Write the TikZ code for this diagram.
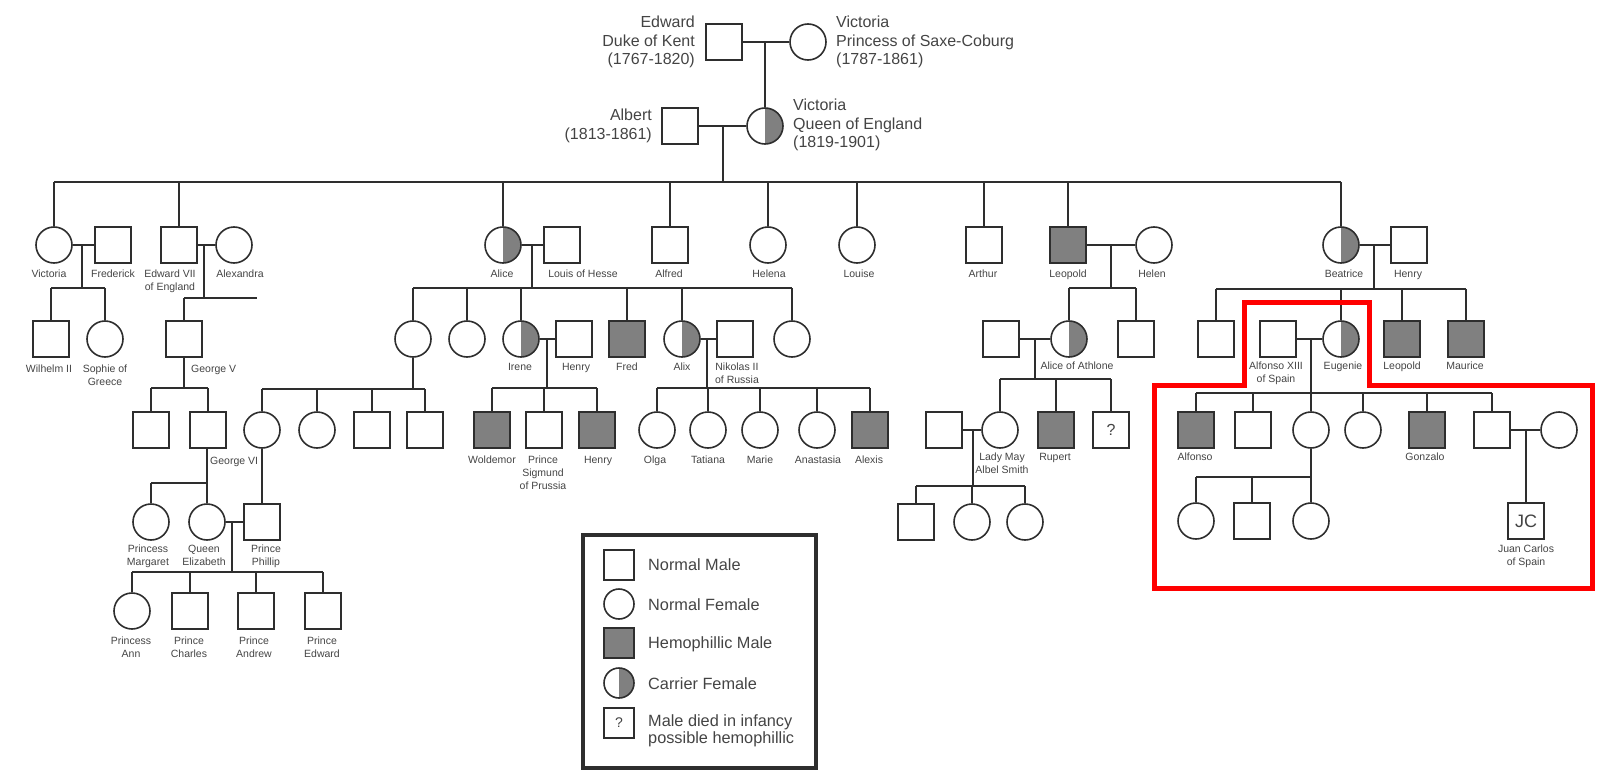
\documentclass[tikz,border=0pt]{standalone}
\usepackage{fontspec}
\setmainfont{Liberation Sans}
\definecolor{lc}{HTML}{2E2E2E}
\definecolor{gy}{HTML}{808080}
\definecolor{tc}{HTML}{444444}
\definecolor{rd}{HTML}{FF0000}
\begin{document}
\begin{tikzpicture}[x=1pt,y=-1pt,
  ln/.style={draw=lc, line width=1.6pt},
  base/.style={draw=lc, line width=1.6pt, inner sep=0pt, minimum size=36pt, fill=white},
  ml/.style={base, rectangle},
  fm/.style={base, circle},
  hm/.style={ml, fill=gy},
  cf/.style={fm, path picture={\fill[gy] (path picture bounding box.south) rectangle (path picture bounding box.north east);}},
  lab/.style={font=\fontsize{10.5}{12.8}\selectfont, text=tc, align=center, inner sep=0pt, anchor=north},
  big/.style={font=\fontsize{16}{18.5}\selectfont, text=tc, inner sep=0pt},
  leg/.style={font=\fontsize{16.3}{16.5}\selectfont, text=tc, inner sep=0pt, anchor=west, align=left},
  lgs/.style={minimum size=30pt}
]
\useasboundingbox (0,0) rectangle (1612,784);

% ---------- generation 0 ----------
\node[ml] (edw) at (724,42) {};
\node[fm] (vicp) at (808,42) {};
\draw[ln] (edw) -- (vicp);
\coordinate (m0) at (765,42);
\node[cf] (queen) at (765,126) {};
\draw[ln] (m0) -- (queen);
\node[ml] (albert) at (680,126) {};
\draw[ln] (albert) -- (queen);
\coordinate (m1) at (723,126);
\coordinate (s1) at (723,182);
\draw[ln] (m1) -- (s1);

\node[big, anchor=east, align=right] (tedw) at (695,42) {Edward\\Duke of Kent\\(1767-1820)};
\node[big, anchor=west, align=left] (tvicp) at (836,42) {Victoria\\Princess of Saxe-Coburg\\(1787-1861)};
\node[big, anchor=east, align=right] (talb) at (652,126) {Albert\\(1813-1861)};
\node[big, anchor=west, align=left] (tqueen) at (793,125) {Victoria\\Queen of England\\(1819-1901)};

% ---------- row 1 ----------
\node[fm] (vic) at (54,245) {};
\node[ml] (fred) at (113,245) {};
\node[ml] (ed7) at (179,245) {};
\node[fm] (alexandra) at (234,245) {};
\node[cf] (alice) at (503,245) {};
\node[ml] (louis) at (562,245) {};
\node[ml] (alfred) at (670,245) {};
\node[fm] (helena) at (768,245) {};
\node[fm] (louise) at (857,245) {};
\node[ml] (arthur) at (984,245) {};
\node[hm] (leopold) at (1068,245) {};
\node[fm] (helen) at (1154,245) {};
\node[cf] (beatrice) at (1341,245) {};
\node[ml] (henryb) at (1409,245) {};

\draw[ln] (vic |- s1) -- (beatrice |- s1);
\foreach \n in {vic,ed7,alice,alfred,helena,louise,arthur,leopold,beatrice}
  \draw[ln] (\n) -- (\n |- s1);

\node[lab] at (49,270) {Victoria};
\node[lab] at (113,270) {Frederick};
\node[lab] at (170,270) {Edward VII\\of England};
\node[lab] at (240,270) {Alexandra};
\node[lab] at (502,270) {Alice};
\node[lab] at (583,270) {Louis of Hesse};
\node[lab] at (669,270) {Alfred};
\node[lab] at (769,270) {Helena};
\node[lab] at (859,270) {Louise};
\node[lab] at (983,270) {Arthur};
\node[lab] at (1068,270) {Leopold};
\node[lab] at (1152,270) {Helen};
\node[lab] at (1344,270) {Beatrice};
\node[lab] at (1408,270) {Henry};

% marriages row 1
\draw[ln] (vic) -- (fred);
\draw[ln] (ed7) -- (alexandra);
\draw[ln] (alice) -- (louis);
\draw[ln] (leopold) -- (helen);
\draw[ln] (beatrice) -- (henryb);

% ---------- row 2 ----------
\node[ml] (wilhelm) at (51,339) {};
\node[fm] (sophie) at (105,339) {};
\node[ml] (george5) at (184,339) {};
\node[fm] (hes1) at (413,339) {};
\node[fm] (hes2) at (467,339) {};
\node[cf] (irene) at (521,339) {};
\node[ml] (henryp) at (574,339) {};
\node[hm] (fredh) at (627,339) {};
\node[cf] (alix) at (682,339) {};
\node[ml] (nikolas) at (735,339) {};
\node[fm] (hes7) at (792,339) {};
\node[ml] (athh) at (1001,339) {};
\node[cf] (alicea) at (1069,339) {};
\node[ml] (leoson) at (1136,339) {};
\node[ml] (bea1) at (1216,339) {};
\node[ml] (alf13) at (1278,339) {};
\node[cf] (eugenie) at (1341,339) {};
\node[hm] (leopoldb) at (1402,339) {};
\node[hm] (maurice) at (1466,339) {};

% Victoria + Frederick children
\coordinate (mv) at (82,245);
\coordinate (sv) at (82,288);
\draw[ln] (mv) -- (sv);
\draw[ln] (wilhelm |- sv) -- (sophie |- sv);
\foreach \n in {wilhelm,sophie} \draw[ln] (\n) -- (\n |- sv);

% Edward VII + Alexandra
\coordinate (me) at (204,245);
\coordinate (se) at (204,298);
\coordinate (sestub) at (257,298);
\draw[ln] (me) -- (se);
\draw[ln] (george5 |- se) -- (sestub);
\draw[ln] (george5) -- (george5 |- se);

% Alice + Louis
\coordinate (ma) at (532,245);
\coordinate (sa) at (532,288);
\draw[ln] (ma) -- (sa);
\draw[ln] (hes1 |- sa) -- (hes7 |- sa);
\foreach \n in {hes1,hes2,irene,fredh,alix,hes7} \draw[ln] (\n) -- (\n |- sa);

% Leopold + Helen
\coordinate (ml1) at (1111,245);
\coordinate (sl) at (1111,288);
\draw[ln] (ml1) -- (sl);
\draw[ln] (alicea |- sl) -- (leoson |- sl);
\foreach \n in {alicea,leoson} \draw[ln] (\n) -- (\n |- sl);

% Beatrice + Henry
\coordinate (mb) at (1374,245);
\coordinate (sb) at (1374,289);
\draw[ln] (mb) -- (sb);
\draw[ln] (bea1 |- sb) -- (maurice |- sb);
\foreach \n in {bea1,eugenie,leopoldb,maurice} \draw[ln] (\n) -- (\n |- sb);

% marriages row 2
\draw[ln] (irene) -- (henryp);
\draw[ln] (alix) -- (nikolas);
\draw[ln] (athh) -- (alicea);
\draw[ln] (alf13) -- (eugenie);

\node[lab] at (49,365) {Wilhelm II};
\node[lab] at (105,365) {Sophie of\\Greece};
\node[lab, anchor=north west] at (191,365) {George V};
\node[lab] at (520,363) {Irene};
\node[lab] at (576,363) {Henry};
\node[lab] at (627,363) {Fred};
\node[lab] at (682,363) {Alix};
\node[lab] at (737,363) {Nikolas II\\of Russia};
\node[lab] at (1077,362) {Alice of Athlone};
\node[lab] at (1276,362) {Alfonso XIII\\of Spain};
\node[lab] at (1343,362) {Eugenie};
\node[lab] at (1402,362) {Leopold};
\node[lab] at (1465,362) {Maurice};

% ---------- row 3 ----------
\node[ml] (g5a) at (151,430) {};
\node[ml] (george6) at (208,430) {};
\node[fm] (h1a) at (262,430) {};
\node[fm] (h1b) at (317,430) {};
\node[ml] (h1c) at (372,430) {};
\node[ml] (h1d) at (425,430) {};
\node[hm] (woldemor) at (492,430) {};
\node[ml] (sigmund) at (544,430) {};
\node[hm] (henryh) at (597,430) {};
\node[fm] (olga) at (657,430) {};
\node[fm] (tatiana) at (708,430) {};
\node[fm] (marie) at (760,430) {};
\node[fm] (anastasia) at (817,430) {};
\node[hm] (alexis) at (870,430) {};
\node[ml] (lmh) at (944,430) {};
\node[fm] (ladymay) at (1000,430) {};
\node[hm] (rupert) at (1056,430) {};
\node[ml] (qbox) at (1111,430) {\fontsize{16}{18}\selectfont\color{tc}?};
\node[hm] (alfonso) at (1196,430) {};
\node[ml] (sp2) at (1253,430) {};
\node[fm] (sp3) at (1311,430) {};
\node[fm] (sp4) at (1363,430) {};
\node[hm] (gonzalo) at (1427,430) {};
\node[ml] (sp6) at (1492,430) {};
\node[fm] (sp6w) at (1559,430) {};

% George V children
\coordinate (sg5) at (184,388);
\draw[ln] (george5) -- (sg5);
\draw[ln] (g5a |- sg5) -- (george6 |- sg5);
\foreach \n in {g5a,george6} \draw[ln] (\n) -- (\n |- sg5);

% hes1 children
\coordinate (sh1) at (413,389);
\draw[ln] (hes1) -- (sh1);
\draw[ln] (h1a |- sh1) -- (h1d |- sh1);
\foreach \n in {h1a,h1b,h1c,h1d} \draw[ln] (\n) -- (\n |- sh1);

% Irene + Henry children
\coordinate (mi) at (547,339);
\coordinate (si) at (547,388);
\draw[ln] (mi) -- (si);
\draw[ln] (woldemor |- si) -- (henryh |- si);
\foreach \n in {woldemor,sigmund,henryh} \draw[ln] (\n) -- (\n |- si);

% Alix + Nikolas children
\coordinate (mx) at (707,339);
\coordinate (sx) at (707,388);
\draw[ln] (mx) -- (sx);
\draw[ln] (olga |- sx) -- (alexis |- sx);
\foreach \n in {olga,tatiana,marie,anastasia,alexis} \draw[ln] (\n) -- (\n |- sx);

% Alice of Athlone children
\coordinate (mat) at (1035,339);
\coordinate (sat) at (1035,379);
\draw[ln] (mat) -- (sat);
\draw[ln] (ladymay |- sat) -- (qbox |- sat);
\foreach \n in {ladymay,rupert,qbox} \draw[ln] (\n) -- (\n |- sat);

% Alfonso XIII + Eugenie children
\coordinate (mae) at (1311,339);
\coordinate (sae) at (1311,393);
\draw[ln] (mae) -- (sae);
\draw[ln] (alfonso |- sae) -- (sp6 |- sae);
\foreach \n in {alfonso,sp2,sp3,sp4,gonzalo,sp6} \draw[ln] (\n) -- (\n |- sae);

% marriages row 3
\draw[ln] (lmh) -- (ladymay);
\draw[ln] (sp6) -- (sp6w);

\node[lab, anchor=north west] at (210,457) {George VI};
\node[lab] at (492,456) {Woldemor};
\node[lab] at (543,456) {Prince\\Sigmund\\of Prussia};
\node[lab] at (598,456) {Henry};
\node[lab] at (655,456) {Olga};
\node[lab] at (708,456) {Tatiana};
\node[lab] at (760,456) {Marie};
\node[lab] at (818,456) {Anastasia};
\node[lab] at (869,456) {Alexis};
\node[lab] at (1002,453) {Lady May\\Albel Smith};
\node[lab] at (1055,453) {Rupert};
\node[lab] at (1195,453) {Alfonso};
\node[lab] at (1425,453) {Gonzalo};

% ---------- row 4 ----------
\node[fm] (margaret) at (151,522) {};
\node[fm] (elizabeth) at (207,522) {};
\node[ml] (phillip) at (262,522) {};
\node[ml] (lm1) at (916,522) {};
\node[fm] (lm2) at (972,522) {};
\node[fm] (lm3) at (1025,522) {};
\node[fm] (c1) at (1196,521) {};
\node[ml] (c2) at (1252,521) {};
\node[fm] (c3) at (1311,521) {};
\node[ml] (jc) at (1526,521) {\fontsize{18}{20}\selectfont\color{tc}JC};

% George VI children
\coordinate (sg6) at (207,483);
\draw[ln] (george6.south -| sg6) -- (sg6);
\draw[ln] (margaret |- sg6) -- (sg6);
\draw[ln] (margaret) -- (margaret |- sg6);
\draw[ln] (elizabeth) -- (elizabeth |- sg6);

% h1a -> Phillip
\draw[ln] (h1a) -- (phillip);

% Lady May children
\coordinate (mlm) at (973,430);
\coordinate (slm) at (973,486);
\draw[ln] (mlm) -- (slm);
\draw[ln] (lm1 |- slm) -- (lm3 |- slm);
\foreach \n in {lm1,lm2,lm3} \draw[ln] (\n) -- (\n |- slm);

% sp3 children
\coordinate (s3) at (1311,477);
\draw[ln] (sp3) -- (s3);
\draw[ln] (c1 |- s3) -- (c3 |- s3);
\foreach \n in {c1,c2,c3} \draw[ln] (\n) -- (\n |- s3);

% sp6 -> JC
\coordinate (m6) at (1526,430);
\draw[ln] (m6) -- (jc);

% Elizabeth + Phillip
\draw[ln] (elizabeth) -- (phillip);

\node[lab] at (148,545) {Princess\\Margaret};
\node[lab] at (204,545) {Queen\\Elizabeth};
\node[lab] at (266,545) {Prince\\Phillip};
\node[lab] at (1526,545) {Juan Carlos\\of Spain};

% ---------- row 5 ----------
\node[fm] (ann) at (132,611) {};
\node[ml] (charles) at (190,611) {};
\node[ml] (andrew) at (256,611) {};
\node[ml] (edwardp) at (323,611) {};
\coordinate (mep) at (232,522);
\coordinate (sep) at (232,572);
\draw[ln] (mep) -- (sep);
\draw[ln] (ann |- sep) -- (edwardp |- sep);
\foreach \n in {ann,charles,andrew,edwardp} \draw[ln] (\n) -- (\n |- sep);

\node[lab] at (131,637) {Princess\\Ann};
\node[lab] at (189,637) {Prince\\Charles};
\node[lab] at (254,637) {Prince\\Andrew};
\node[lab] at (322,637) {Prince\\Edward};

% ---------- legend ----------
\node[draw=lc, line width=3.5pt, minimum width=233pt, minimum height=233pt, inner sep=0pt] (legend) at (699.5,651.5) {};
\node[ml, lgs] (l1) at (619,565) {};
\node[fm, lgs] (l2) at (619,604) {};
\node[hm, lgs] (l3) at (619,643) {};
\node[cf, lgs] (l4) at (619,683) {};
\node[ml, lgs] (l5) at (619,723) {\fontsize{14}{16}\selectfont\color{tc}?};
\node[leg] at (648,565) {Normal Male};
\node[leg] at (648,605) {Normal Female};
\node[leg] at (648,644) {Hemophillic Male};
\node[leg] at (648,684) {Carrier Female};
\node[leg] at (648,731) {Male died in infancy\\possible hemophillic};

% ---------- red outline ----------
\draw[draw=rd, line width=5pt, line join=miter]
  (1154,385) -- (1244,385) -- (1244,302) -- (1369,302) -- (1369,385)
  -- (1592,385) -- (1592,588) -- (1154,588) -- cycle;
\end{tikzpicture}
\end{document}
